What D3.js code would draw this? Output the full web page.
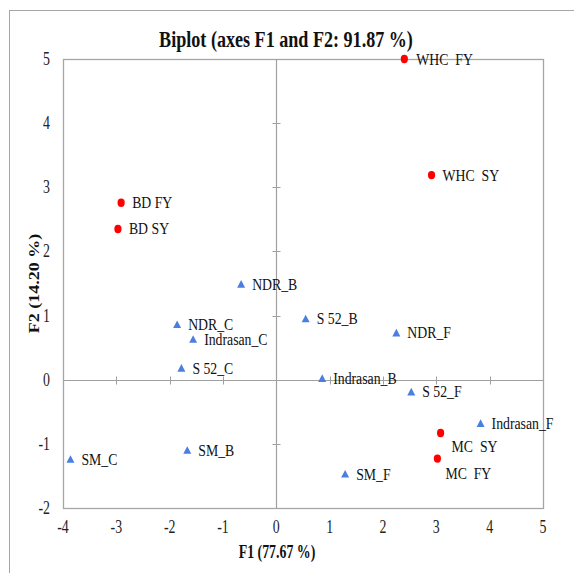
<!DOCTYPE html>
<html>
<head>
<meta charset="utf-8">
<script src="https://cdn.jsdelivr.net/npm/d3@7"></script>
</head>
<body style="margin:0">
<script>
// Observations (red circles)
const obsNames = ["WHC  FY", "WHC  SY", "BD FY", "BD SY", "MC  SY", "MC  FY"];
const obsF1 = [2.40, 2.91, -2.91, -2.97, 3.08, 3.02];
const obsF2 = [5.00, 3.19, 2.76, 2.35, -0.83, -1.23];

// Variables (blue triangles)
const varNames = ["NDR_B", "NDR_C", "Indrasan_C", "S 52_C", "S 52_B", "NDR_F",
                  "Indrasan_B", "S 52_F", "Indrasan_F", "SM_F", "SM_B", "SM_C"];
const varF1 = [-0.66, -1.86, -1.56, -1.78, 0.55, 2.25, 0.86, 2.53, 3.83, 1.29, -1.67, -3.86];
const varF2 = [1.49, 0.86, 0.63, 0.18, 0.95, 0.73, 0.02, -0.19, -0.68, -1.47, -1.10, -1.24];

const xTicks = [-4, -3, -2, -1, 0, 1, 2, 3, 4, 5];
const yTicks = [-2, -1, 0, 1, 2, 3, 4, 5];

const W = 574, H = 573;
const plot = { left: 63, right: 543, top: 59, bottom: 508 };
const FONT = "'Liberation Serif'";
const SQX = 0.77; // narrow letterforms

const svg = d3.select("body").append("svg").attr("width", W).attr("height", H)
  .style("display", "block");

// outer chart frame
svg.append("rect").attr("x", 9.5).attr("y", 10.5).attr("width", 600).attr("height", 600)
  .attr("fill", "none").attr("stroke", "#a6a6a6").attr("stroke-width", 1);

const x = d3.scaleLinear().domain([-4, 5]).range([plot.left, plot.right]);
const y = d3.scaleLinear().domain([-2, 5]).range([plot.bottom, plot.top]);

// plot frame
svg.append("rect")
  .attr("x", plot.left + 0.5).attr("y", plot.top + 0.5)
  .attr("width", plot.right - plot.left).attr("height", plot.bottom - plot.top)
  .attr("fill", "none").attr("stroke", "#a6a6a6").attr("stroke-width", 1.3);

// zero axes through origin, with tick marks
const axisColor = "#a0a0a0";
const xAxisG = svg.append("g").attr("transform", `translate(0,${Math.round(y(0)) + 0.5})`);
xAxisG.append("line").attr("x1", plot.left).attr("x2", plot.right).attr("stroke", axisColor).attr("stroke-width", 1.2);
xAxisG.selectAll("line.t").data(xTicks.slice(1, -1)).join("line").attr("class", "t")
  .attr("x1", d => Math.round(x(d)) + 0.5).attr("x2", d => Math.round(x(d)) + 0.5)
  .attr("y1", -4).attr("y2", 4).attr("stroke", axisColor);

const yAxisG = svg.append("g").attr("transform", `translate(${Math.round(x(0)) + 0.5},0)`);
yAxisG.append("line").attr("y1", plot.top).attr("y2", plot.bottom).attr("stroke", axisColor).attr("stroke-width", 1.2);
yAxisG.selectAll("line.t").data(yTicks.slice(1, -1)).join("line").attr("class", "t")
  .attr("y1", d => Math.round(y(d)) + 0.5).attr("y2", d => Math.round(y(d)) + 0.5)
  .attr("x1", -4).attr("x2", 4).attr("stroke", axisColor);

// tick labels on the frame
svg.append("g").selectAll("text").data(xTicks).join("text")
  .attr("transform", d => `translate(${x(d)},${plot.bottom + 25}) scale(${SQX},1)`)
  .attr("font-family", FONT)
  .attr("text-anchor", "middle").attr("font-size", 18).attr("fill", "#222")
  .text(d => d);
svg.append("g").selectAll("text").data(yTicks).join("text")
  .attr("transform", d => `translate(${plot.left - 13},${y(d) + 6}) scale(${SQX},1)`)
  .attr("font-family", FONT)
  .attr("text-anchor", "end").attr("font-size", 18).attr("fill", "#222")
  .text(d => d);

// titles
svg.append("text").attr("transform", `translate(286,47) scale(${SQX},1)`)
  .attr("text-anchor", "middle")
  .attr("font-family", FONT)
  .attr("font-size", 23.5).attr("font-weight", "bold").attr("fill", "#111")
  .text("Biplot (axes F1 and F2: 91.87 %)");
svg.append("text").attr("transform", `translate(277,558) scale(${SQX},1)`)
  .attr("text-anchor", "middle")
  .attr("font-family", FONT)
  .attr("font-size", 18).attr("font-weight", "bold").attr("fill", "#111")
  .text("F1 (77.67 %)");
svg.append("text")
  .attr("transform", `translate(39,${(plot.top + plot.bottom) / 2}) rotate(-90) scale(1,${SQX})`)
  .attr("font-family", FONT)
  .attr("text-anchor", "middle")
  .attr("font-size", 18).attr("font-weight", "bold").attr("fill", "#111")
  .text("F2 (14.20 %)");

// label placement relative to the marker
const labelShift = { "MC  SY": [11, 14], "MC  FY": [8, 15], "WHC  FY": [12, 0] };

const obs = obsNames.map((n, i) => ({ name: n, f1: obsF1[i], f2: obsF2[i] }));
const vars = varNames.map((n, i) => ({ name: n, f1: varF1[i], f2: varF2[i] }));

const gPts = svg.append("g");
gPts.selectAll("path").data(vars).join("path")
  .attr("d", d3.symbol(d3.symbolTriangle, 34))
  .attr("transform", d => `translate(${x(d.f1)},${y(d.f2) + 1}) scale(0.9,1)`)
  .attr("fill", "#4a7fe0");
gPts.selectAll("ellipse").data(obs).join("ellipse")
  .attr("cx", d => x(d.f1)).attr("cy", d => y(d.f2)).attr("rx", 3.6).attr("ry", 4.2)
  .attr("fill", "#ff0000");

svg.append("g").selectAll("text").data(vars.concat(obs)).join("text")
  .attr("transform", d => {
    const s = labelShift[d.name] || [11, 0];
    return `translate(${x(d.f1) + s[0]},${y(d.f2) + 5.5 + s[1]}) scale(0.81,1)`;
  })
  .attr("font-family", FONT)
  .attr("font-size", 17).attr("fill", "#111")
  .attr("xml:space", "preserve")
  .text(d => d.name);
</script>
</body>
</html>
